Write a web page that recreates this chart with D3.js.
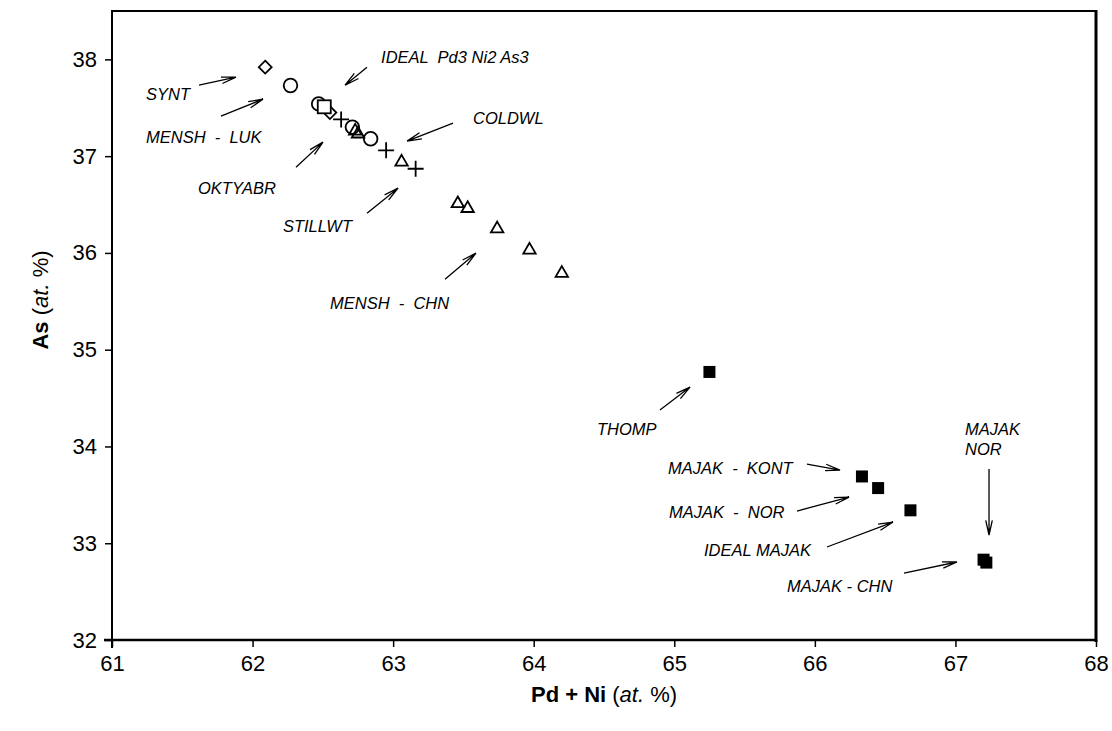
<!DOCTYPE html>
<html>
<head>
<meta charset="utf-8">
<script src="https://cdn.jsdelivr.net/npm/d3@7"></script>
<style>
body { margin: 0; background: #fff; }
text { font-family: "Liberation Sans", Arial, sans-serif; fill: #000; }
</style>
</head>
<body>
<div id="chart"></div>
<script>
// data (Pd+Ni at.%, As at.%)
var diamonds = [[62.09, 37.92], [62.55, 37.45]];
var circles = [[62.27, 37.73], [62.47, 37.54], [62.71, 37.30], [62.84, 37.18]];
var squares = [[62.51, 37.51]];
var crosses = [[62.63, 37.38], [62.95, 37.06], [63.16, 36.87]];
var triangles = [[62.73, 37.27], [62.75, 37.24], [63.06, 36.95], [63.46, 36.52],
                 [63.53, 36.47], [63.74, 36.26], [63.97, 36.04], [64.20, 35.80]];
var filled = [[65.25, 34.77], [66.335, 33.69], [66.45, 33.57], [66.68, 33.34],
              [67.20, 32.83], [67.22, 32.80]];

var xTicks = [61, 62, 63, 64, 65, 66, 67, 68];
var yTicks = [32, 33, 34, 35, 36, 37, 38];

// annotations: text lines, text anchor point, arrow start and end (data units)
var labelText = [["IDEAL  Pd3 Ni2 As3"], ["SYNT"], ["MENSH  -  LUK"], ["COLDWL"], ["OKTYABR"],
                 ["STILLWT"], ["MENSH  -  CHN"], ["THOMP"], ["MAJAK", "NOR"],
                 ["MAJAK  -  KONT"], ["MAJAK  -  NOR"], ["IDEAL MAJAK"], ["MAJAK - CHN"]];
var labelPos = [[62.914, 37.961], [61.242, 37.579], [61.242, 37.134], [63.568, 37.331],
                [61.612, 36.607], [62.216, 36.215], [62.551, 35.419], [64.450, 34.118],
                [67.068, 34.118], [64.955, 33.715], [64.962, 33.260], [65.211, 32.868],
                [65.802, 32.496]];
var arrowFrom = [[62.814, 37.919], [61.619, 37.733], [61.775, 37.413], [63.426, 37.341],
                 [62.309, 36.886], [62.814, 36.411], [63.369, 35.729], [64.898, 34.376],
                 [67.239, 33.767], [65.944, 33.818], [65.873, 33.333], [66.086, 32.961],
                 [66.634, 32.692]];
var arrowTo = [[62.658, 37.733], [61.882, 37.816], [62.074, 37.589], [63.099, 37.155],
               [62.501, 37.145], [63.035, 36.669], [63.589, 35.998], [65.112, 34.614],
               [67.239, 33.085], [66.179, 33.756], [66.243, 33.477], [66.556, 33.219],
               [67.011, 32.806]];

var W = 1112, H = 731;
var pLeft = 112, pRight = 1096, pTop = 11, pBottom = 640;

var svg = d3.select("#chart").append("svg")
    .attr("width", W)
    .attr("height", H);

var x = d3.scaleLinear().domain([61, 68]).range([pLeft, pRight]);
var y = d3.scaleLinear().domain([32, 38.5]).range([pBottom, pTop]);

// frame: top and right borders
svg.append("line").attr("x1", pLeft).attr("x2", pRight).attr("y1", pTop).attr("y2", pTop)
    .attr("stroke", "#000").attr("stroke-width", 2);
svg.append("line").attr("x1", pRight).attr("x2", pRight).attr("y1", pTop - 1).attr("y2", pBottom + 2)
    .attr("stroke", "#000").attr("stroke-width", 3);

// axes
var xAxis = svg.append("g")
    .attr("transform", "translate(0," + pBottom + ")")
    .call(d3.axisBottom(x).tickValues(xTicks).tickSize(7).tickPadding(8).tickFormat(d3.format("d")));
var yAxis = svg.append("g")
    .attr("transform", "translate(" + pLeft + ",0)")
    .call(d3.axisLeft(y).tickValues(yTicks).tickSize(7).tickPadding(8).tickFormat(d3.format("d")));

[xAxis, yAxis].forEach(function(a) {
    a.select(".domain").remove();
    a.selectAll("line").attr("stroke-width", 1.5);
    a.selectAll("text").attr("fill", "#000").style("font-size", "22px");
});
svg.append("line").attr("x1", pLeft - 8).attr("x2", pRight).attr("y1", pBottom).attr("y2", pBottom)
    .attr("stroke", "#000").attr("stroke-width", 2.5);
svg.append("line").attr("x1", pLeft).attr("x2", pLeft).attr("y1", pTop - 1).attr("y2", pBottom + 8)
    .attr("stroke", "#000").attr("stroke-width", 2);

// axis titles
var xt = svg.append("text")
    .attr("x", (pLeft + pRight) / 2)
    .attr("y", 702)
    .attr("text-anchor", "middle")
    .style("font-size", "22px");
xt.append("tspan").attr("font-weight", "bold").text("Pd + Ni ");
xt.append("tspan").text("(");
xt.append("tspan").attr("font-style", "italic").text("at.");
xt.append("tspan").text(" %)");

var yt = svg.append("text")
    .attr("transform", "translate(48,300) rotate(-90)")
    .attr("text-anchor", "middle")
    .style("font-size", "22px");
yt.append("tspan").attr("font-weight", "bold").text("As ");
yt.append("tspan").text("(");
yt.append("tspan").attr("font-style", "italic").text("at.");
yt.append("tspan").text(" %)");

// markers
var marks = svg.append("g");
var sw = 1.8;

marks.selectAll(".dia").data(diamonds).enter().append("path")
    .attr("d", d3.symbol().type(d3.symbolDiamond2).size(105))
    .attr("transform", function(d) { return "translate(" + x(d[0]) + "," + y(d[1]) + ")"; })
    .attr("fill", "#fff").attr("stroke", "#000").attr("stroke-width", sw);

marks.selectAll(".circ").data(circles).enter().append("circle")
    .attr("cx", function(d) { return x(d[0]); })
    .attr("cy", function(d) { return y(d[1]); })
    .attr("r", 6.8)
    .attr("fill", "#fff").attr("stroke", "#000").attr("stroke-width", sw);

marks.selectAll(".sq").data(squares).enter().append("rect")
    .attr("x", function(d) { return x(d[0]) - 6.5; })
    .attr("y", function(d) { return y(d[1]) - 6.5; })
    .attr("width", 13).attr("height", 13)
    .attr("fill", "#fff").attr("stroke", "#000").attr("stroke-width", sw);

marks.selectAll(".tri").data(triangles).enter().append("path")
    .attr("d", d3.symbol().type(d3.symbolTriangle2).size(110))
    .attr("transform", function(d) { return "translate(" + x(d[0]) + "," + (y(d[1]) + 1) + ")"; })
    .attr("fill", "none").attr("stroke", "#000").attr("stroke-width", sw);

marks.selectAll(".cross").data(crosses).enter().append("path")
    .attr("d", "M-8,0H8M0,-8V8")
    .attr("transform", function(d) { return "translate(" + x(d[0]) + "," + y(d[1]) + ")"; })
    .attr("fill", "none").attr("stroke", "#000").attr("stroke-width", sw);

marks.selectAll(".fill").data(filled).enter().append("rect")
    .attr("x", function(d) { return x(d[0]) - 6; })
    .attr("y", function(d) { return y(d[1]) - 6; })
    .attr("width", 12).attr("height", 12)
    .attr("fill", "#000");

// annotations
var ann = svg.append("g");
labelText.forEach(function(lines, i) {
    var t = ann.append("text")
        .attr("x", x(labelPos[i][0]))
        .attr("y", y(labelPos[i][1]))
        .attr("font-style", "italic")
        .style("font-size", "16.5px")
        .style("white-space", "pre");
    lines.forEach(function(s, k) {
        t.append("tspan").attr("x", x(labelPos[i][0])).attr("dy", k == 0 ? 0 : 20).text(s);
    });
});

function arrowPath(a, b) {
    var x1 = x(a[0]), y1 = y(a[1]), x2 = x(b[0]), y2 = y(b[1]);
    var ang = Math.atan2(y2 - y1, x2 - x1);
    var len = 15, sp = 0.22;
    var p1 = [x2 - len * Math.cos(ang - sp), y2 - len * Math.sin(ang - sp)];
    var p2 = [x2 - len * Math.cos(ang + sp), y2 - len * Math.sin(ang + sp)];
    var p = d3.path();
    p.moveTo(x1, y1); p.lineTo(x2, y2);
    p.moveTo(p1[0], p1[1]); p.lineTo(x2, y2); p.lineTo(p2[0], p2[1]);
    return p.toString();
}

arrowFrom.forEach(function(a, i) {
    ann.append("path")
        .attr("d", arrowPath(a, arrowTo[i]))
        .attr("fill", "none")
        .attr("stroke", "#000")
        .attr("stroke-width", 1.3);
});
</script>
</body>
</html>
